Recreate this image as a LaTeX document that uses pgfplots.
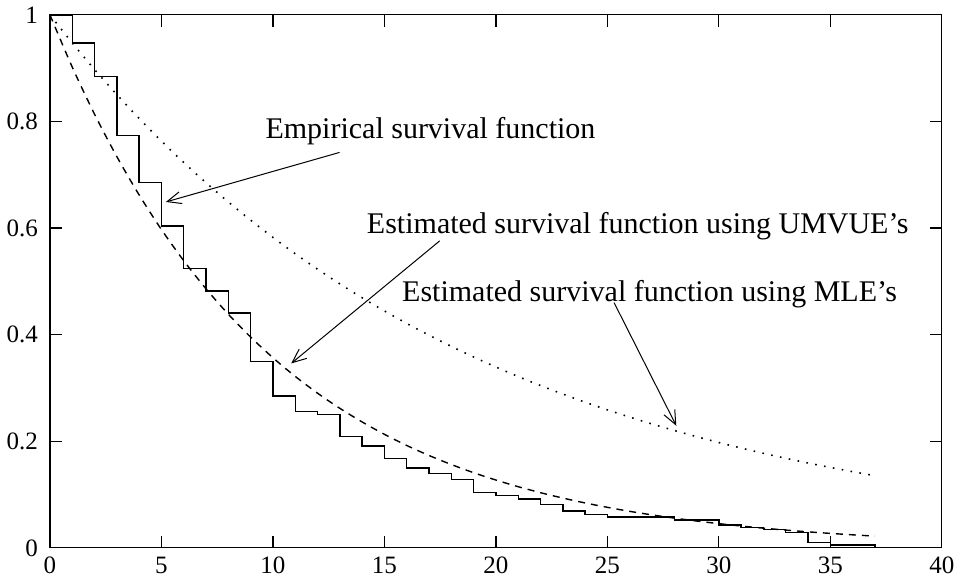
\documentclass[border=0pt]{standalone}
\usepackage{fontspec}
\setmainfont{Liberation Serif}
\usepackage{pgfplots}
\pgfplotsset{compat=1.18}
\usetikzlibrary{arrows.meta}

\begin{document}
\begin{tikzpicture}
\begin{axis}[
  scale only axis, width=446pt, height=266.5pt,
  xmin=0, xmax=40, ymin=0, ymax=1,
  xtick={0,5,10,15,20,25,30,35,40},
  ytick={0,0.2,0.4,0.6,0.8,1},
  tick align=inside, major tick length=6pt,
  every tick/.style={black, line width=0.6pt},
  axis line style={line width=0.6pt},
  /pgf/number format/assume math mode=true,
  tick label style={font=\fontsize{12.5}{14}\selectfont},
  yticklabel style={xshift=-2.5pt},
  xticklabel style={yshift=-1pt},
  clip=false,
]
% empirical survival function
\addplot[const plot, black, line width=0.7pt] coordinates {
  (0,1) (1,0.947) (2,0.884) (3,0.774) (4,0.685) (5,0.604) (6,0.524)
  (7,0.482) (8,0.441) (9,0.350) (10,0.285) (11,0.256) (12,0.250)
  (13,0.209) (14,0.191) (15,0.168) (16,0.150) (17,0.139) (18,0.128)
  (19,0.104) (20,0.098) (21,0.092) (22,0.081) (23,0.069) (24,0.063)
  (25,0.058) (26,0.058) (27,0.058) (28,0.052) (29,0.052) (30,0.043)
  (31,0.038) (32,0.034) (33,0.029) (34,0.010) (35,0.005) (36,0.005)
  (37,0)
};
% UMVUE estimate
\addplot[smooth, black, line width=0.7pt, dash pattern=on 3.5pt off 3pt] coordinates {
  (0,1) (1,0.9020) (2,0.8136) (3,0.7340) (4,0.6621) (5,0.5972) (6,0.5387)
  (7,0.4860) (8,0.4383) (9,0.3954) (10,0.3567) (11,0.3217) (12,0.2902)
  (13,0.2618) (14,0.2362) (15,0.2130) (16,0.1921) (17,0.1733) (18,0.1563)
  (19,0.1410) (20,0.1272) (21,0.1147) (22,0.1035) (23,0.0934) (24,0.0842)
  (25,0.0760) (26,0.0685) (27,0.0618) (28,0.0558) (29,0.0503) (30,0.0454)
  (31,0.0409) (32,0.0369) (33,0.0333) (34,0.0300) (35,0.0271) (36,0.0244)
  (37,0.0220)
};
% MLE estimate
\addplot[smooth, black, line width=0.8pt, dash pattern=on 0.8pt off 3.7pt] coordinates {
  (0,1) (1,0.9474) (2,0.8975) (3,0.8503) (4,0.8056) (5,0.7632) (6,0.7230)
  (7,0.6850) (8,0.6489) (9,0.6148) (10,0.5825) (11,0.5518) (12,0.5228)
  (13,0.4953) (14,0.4692) (15,0.4445) (16,0.4211) (17,0.3990) (18,0.3780)
  (19,0.3581) (20,0.3393) (21,0.3214) (22,0.3045) (23,0.2885) (24,0.2733)
  (25,0.2589) (26,0.2453) (27,0.2324) (28,0.2202) (29,0.2086) (30,0.1976)
  (31,0.1872) (32,0.1773) (33,0.1680) (34,0.1592) (35,0.1508) (36,0.1429)
  (37,0.1353)
};
% annotations
\node[anchor=base west, inner sep=0pt, font=\fontsize{15}{17}\selectfont]
  at (axis cs:9.65,0.769) {Empirical survival function};
\node[anchor=base west, inner sep=0pt, font=\fontsize{15}{17}\selectfont]
  at (axis cs:14.2,0.59) {Estimated survival function using UMVUE's};
\node[anchor=base west, inner sep=0pt, font=\fontsize{15}{17}\selectfont]
  at (axis cs:15.78,0.463) {Estimated survival function using MLE's};
\draw[-{Straight Barb[length=7pt,width=6pt]}, line width=0.5pt]
  (axis cs:12.99,0.742) -- (axis cs:5.20,0.649);
\draw[-{Straight Barb[length=7pt,width=6pt]}, line width=0.5pt]
  (axis cs:17.48,0.576) -- (axis cs:10.82,0.346);
\draw[-{Straight Barb[length=7pt,width=6pt]}, line width=0.5pt]
  (axis cs:25.3,0.460) -- (axis cs:28.09,0.229);
\end{axis}
\end{tikzpicture}
\end{document}
